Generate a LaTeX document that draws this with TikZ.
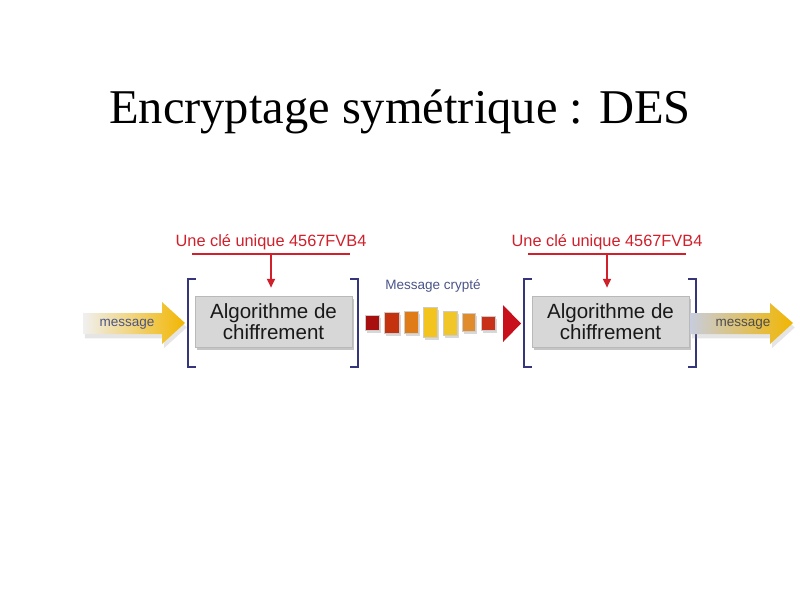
\documentclass[tikz,border=0pt]{standalone}
\usepackage{fontspec}
\setmainfont{Liberation Serif}
\newfontfamily\diagsans{Liberation Sans}
\usepackage{tikz}
\usetikzlibrary{shadows, calc, arrows.meta}
\definecolor{keyred}{HTML}{D0202C}
\definecolor{slate}{HTML}{4A5488}
\definecolor{bracketblue}{HTML}{34357A}
\definecolor{boxgray}{HTML}{D7D7D7}
\definecolor{goldarrow}{HTML}{F2B600}
\definecolor{fadeblue}{HTML}{C8CDDE}
\definecolor{paleyellow}{HTML}{FFF6D0}
\definecolor{chipA}{HTML}{A81010}
\definecolor{chipB}{HTML}{C4320E}
\definecolor{chipC}{HTML}{E07C18}
\definecolor{chipD}{HTML}{F3C41E}
\definecolor{chipE}{HTML}{F0C628}
\definecolor{chipF}{HTML}{E08C2C}
\definecolor{chipG}{HTML}{C83018}
\definecolor{tipred}{HTML}{C8101C}

\begin{document}
\begin{tikzpicture}[x=0.02cm, y=-0.02cm,
  algo/.style={draw=gray!55, fill=boxgray, minimum width=3.14cm, minimum height=1.02cm, inner sep=0pt, align=center, text=black!90, font=\diagsans\fontsize{11.7}{10.3}\selectfont, drop shadow={shadow xshift=1.2pt, shadow yshift=-1.8pt, opacity=.45}},
  key/.style={text=keyred, inner sep=2pt, font=\diagsans\fontsize{9.3}{11}\selectfont},
  keyarrow/.style={draw=keyred, fill=keyred, line width=0.9pt, -{Triangle[width=4.5pt, length=5pt]}},
  brace/.style={bracketblue, line width=1.1pt},
  label/.style={text=slate, inner sep=0pt, font=\diagsans\fontsize{7.7}{9}\selectfont},
  chip/.style={draw=black!20, line width=0.3pt, drop shadow={shadow xshift=1pt, shadow yshift=-1.5pt, opacity=.3}},
  flow/.style={drop shadow={shadow xshift=1pt, shadow yshift=-2.5pt, opacity=.2}}
]
\useasboundingbox[fill=white] (0,0) rectangle (800,600);

\node (title) at (400,112) {\fontsize{27.6}{33}\selectfont Encryptage symétrique : DES};

% left side
\path[flow, left color=gray!12, right color=goldarrow] (83,313) -- (162,313) -- (162,302) -- (185,323) -- (162,344) -- (162,334) -- (83,334) -- cycle;
\node[label] (msgIn) at (127,324) {message};

\node[algo] (algo1) at (273.5,321.5) {Algorithme de\\chiffrement};
\draw[brace] ($(algo1.north west)+(1,-17)$) -- ++(-8,0) -- ++(0,88) -- ++(8,0);
\draw[brace] ($(algo1.north east)+(-2,-17)$) -- ++(8,0) -- ++(0,88) -- ++(-8,0);

\node[key] (key1) at (271,242) {Une clé unique 4567FVB4};
\fill[keyred] ($(key1.south)+(-79,-1)$) rectangle ++(158,2);
\draw[keyarrow, shorten >=0.16cm] (key1.south) -- (key1.south |- algo1.north);

% encrypted message
\node[label] (crypt) at (433,286) {Message crypté};
\draw[chip, fill=chipA] (365,315) rectangle (379,330);
\draw[chip, fill=chipB] (384,312) rectangle (399,333);
\draw[chip, fill=chipC] (404,311) rectangle (418,333);
\draw[chip, fill=chipD] (423,307) rectangle (437,337);
\draw[chip, fill=chipE] (443,311) rectangle (457,335);
\draw[chip, fill=chipF] (462,313) rectangle (475,331);
\draw[chip, fill=chipG] (481,316) rectangle (495,330);
\fill[tipred] (503,305) -- (521,323.5) -- (503,342) -- cycle;

% right side
\node[algo] (algo2) at (610.5,321.5) {Algorithme de\\chiffrement};
\draw[brace] ($(algo2.north west)+(0,-17)$) -- ++(-8,0) -- ++(0,88) -- ++(8,0);
\draw[brace] ($(algo2.north east)+(-1,-17)$) -- ++(8,0) -- ++(0,88) -- ++(-8,0);

\node[key] (key2) at (607,242) {Une clé unique 4567FVB4};
\fill[keyred] ($(key2.south)+(-79,-1)$) rectangle ++(158,2);
\draw[keyarrow, shorten >=0.16cm] (key2.south) -- (key2.south |- algo2.north);

\path[flow, left color=fadeblue, middle color=paleyellow, right color=goldarrow] (690,313) -- (770,313) -- (770,303) -- (793,323) -- (770,344) -- (770,334) -- (690,334) -- cycle;
\node[label, text=black!70] (msgOut) at (743,324) {message};
\end{tikzpicture}
\end{document}
